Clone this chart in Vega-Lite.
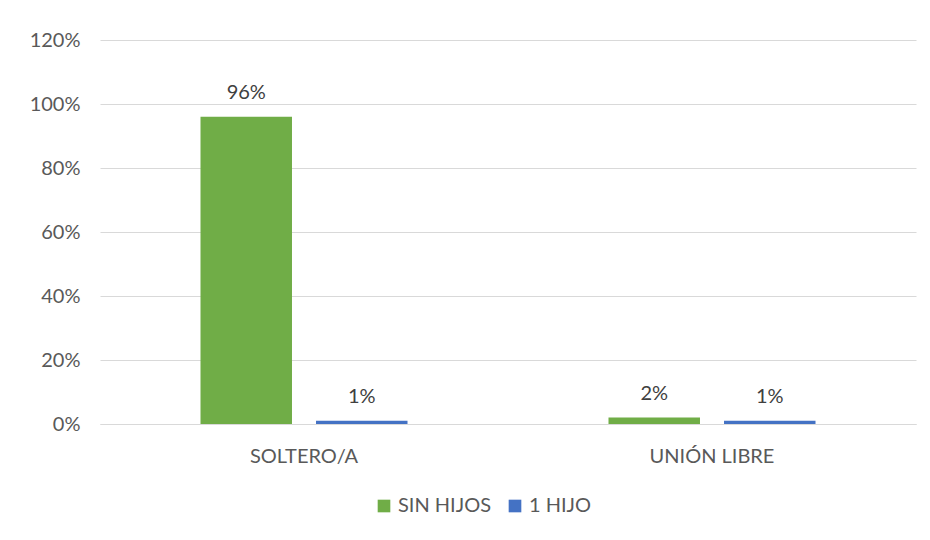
{
  "$schema": "https://vega.github.io/schema/vega-lite/v6.json",
  "width": 816,
  "height": 384,
  "autosize": {"type": "none"},
  "padding": {"left": 100, "top": 40, "right": 14, "bottom": 116},
  "background": "white",
  "config": {
    "view": {"stroke": null},
    "font": "Lato",
    "axis": {"labelFont": "Lato", "labelColor": "#595959", "labelFontSize": 20, "labelOverlap": false}
  },
  "data": {
    "values": [
      {"estado": "SOLTERO/A", "serie": "SIN HIJOS", "valor": 0.96},
      {"estado": "SOLTERO/A", "serie": "1 HIJO", "valor": 0.01},
      {"estado": "UNIÓN LIBRE", "serie": "SIN HIJOS", "valor": 0.02},
      {"estado": "UNIÓN LIBRE", "serie": "1 HIJO", "valor": 0.01}
    ]
  },
  "encoding": {
    "x": {
      "field": "estado", "type": "nominal", "sort": ["SOLTERO/A", "UNIÓN LIBRE"],
      "scale": {"paddingInner": 0, "paddingOuter": 0},
      "axis": {"title": null, "labelAngle": 0, "ticks": false, "domainColor": "#d9d9d9", "domainWidth": 1, "labelPadding": 22}
    },
    "xOffset": {
      "field": "serie", "type": "nominal", "sort": ["SIN HIJOS", "1 HIJO"],
      "scale": {"paddingInner": 0.208, "paddingOuter": 0.87}
    },
    "y": {
      "field": "valor", "type": "quantitative",
      "scale": {"domain": [0, 1.2]},
      "axis": {"title": null, "format": ".0%", "values": [0, 0.2, 0.4, 0.6, 0.8, 1.0, 1.2], "domain": false, "ticks": false, "gridColor": "#d9d9d9", "labelPadding": 20}
    }
  },
  "layer": [
    {
      "mark": {"type": "bar"},
      "encoding": {
        "color": {
          "field": "serie", "type": "nominal", "sort": ["SIN HIJOS", "1 HIJO"],
          "scale": {"domain": ["SIN HIJOS", "1 HIJO"], "range": ["#70AD47", "#4472C4"]},
          "legend": {
            "title": null, "orient": "none", "direction": "horizontal",
            "legendX": 274, "legendY": 456,
            "symbolType": "square", "symbolSize": 160, "symbolStrokeWidth": 0,
            "labelFontSize": 20, "labelColor": "#595959", "labelFont": "Lato",
            "columnPadding": 13, "labelOffset": 4
          }
        }
      }
    },
    {
      "mark": {"type": "text", "baseline": "bottom", "dy": -14, "fontSize": 20, "color": "#404040", "font": "Lato"},
      "encoding": {
        "text": {"field": "valor", "type": "quantitative", "format": ".0%"}
      }
    }
  ]
}
